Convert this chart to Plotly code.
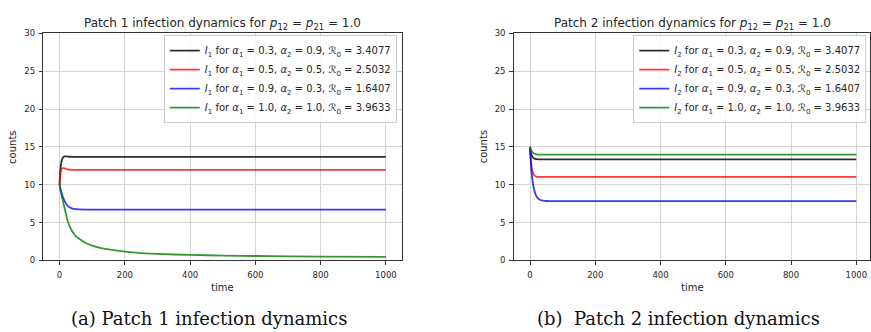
import plotly.graph_objects as go

# ---------------- data ----------------
t = [0, 1, 2, 3, 5, 7, 10, 13, 16, 20, 25, 30, 40, 50, 60, 80, 100, 125,
     150, 200, 250, 300, 400, 500, 600, 800, 1000]

labels = [
    ("0.3", "0.9", "3.4077"),
    ("0.5", "0.5", "2.5032"),
    ("0.9", "0.3", "1.6407"),
    ("1.0", "1.0", "3.9633"),
]

# Patch 1: I1
p1_black = [10, 11.0, 11.7, 12.2, 12.85, 13.25, 13.55, 13.7, 13.75, 13.75, 13.72, 13.7,
            13.68, 13.68, 13.68, 13.68, 13.68, 13.68, 13.68, 13.68, 13.68, 13.68, 13.68,
            13.68, 13.68, 13.68, 13.68]
p1_red = [10, 10.7, 11.2, 11.55, 11.95, 12.12, 12.2, 12.2, 12.15, 12.08, 12.02, 11.99,
          11.97, 11.96, 11.96, 11.96, 11.96, 11.96, 11.96, 11.96, 11.96, 11.96, 11.96,
          11.96, 11.96, 11.96, 11.96]
p1_blue = [10, 9.85, 9.65, 9.45, 9.1, 8.8, 8.4, 8.05, 7.8, 7.5, 7.2, 7.02,
           6.85, 6.77, 6.74, 6.72, 6.72, 6.72, 6.72, 6.72, 6.72, 6.72, 6.72,
           6.72, 6.72, 6.72, 6.72]
p1_green = [10, 9.7, 9.45, 9.2, 8.85, 8.45, 7.95, 7.35, 6.8, 6.05, 5.2, 4.6,
            3.75, 3.2, 2.85, 2.3, 1.95, 1.65, 1.45, 1.15, 0.97, 0.85, 0.72,
            0.64, 0.58, 0.5, 0.45]

# Patch 2: I2
p2_black = [15, 14.7, 14.4, 14.15, 13.9, 13.72, 13.55, 13.46, 13.41, 13.38, 13.36, 13.35,
            13.34, 13.34, 13.34, 13.34, 13.34, 13.34, 13.34, 13.34, 13.34, 13.34, 13.34,
            13.34, 13.34, 13.34, 13.34]
p2_red = [15, 14.2, 13.5, 12.95, 12.3, 11.85, 11.45, 11.25, 11.15, 11.08, 11.05, 11.04,
          11.03, 11.03, 11.03, 11.03, 11.03, 11.03, 11.03, 11.03, 11.03, 11.03, 11.03,
          11.03, 11.03, 11.03, 11.03]
p2_blue = [15, 14.1, 13.3, 12.6, 11.5, 10.7, 9.9, 9.3, 8.85, 8.45, 8.18, 8.02,
           7.9, 7.85, 7.83, 7.82, 7.82, 7.82, 7.82, 7.82, 7.82, 7.82, 7.82,
           7.82, 7.82, 7.82, 7.82]
p2_green = [15, 14.88, 14.75, 14.62, 14.45, 14.32, 14.2, 14.12, 14.07, 14.02, 13.99, 13.98,
            13.97, 13.97, 13.97, 13.97, 13.97, 13.97, 13.97, 13.97, 13.97, 13.97, 13.97,
            13.97, 13.97, 13.97, 13.97]

x_ticks = [0, 200, 400, 600, 800, 1000]
y_ticks = [0, 5, 10, 15, 20, 25, 30]

colors = ["rgba(0,0,0,0.82)", "rgba(255,0,0,0.78)", "rgba(0,0,255,0.78)", "rgba(0,128,0,0.8)"]

# ---------------- figure ----------------
W, H = 871, 332
FONT = "DejaVu Sans"
TXT = "#262626"

fig = go.Figure()


def name_for(i, a1, a2, r0):
    return (f"<i>I</i><sub>{i}</sub> for <i>α</i><sub>1</sub> = {a1}, "
            f"<i>α</i><sub>2</sub> = {a2}, <i>ℛ</i><sub>0</sub> = {r0}")


for k, ys in enumerate([p1_black, p1_red, p1_blue, p1_green]):
    fig.add_trace(go.Scatter(x=t, y=ys, mode="lines",
                             line=dict(color=colors[k], width=1.8, shape="spline", smoothing=0.7),
                             name=name_for(1, *labels[k]), xaxis="x", yaxis="y", legend="legend"))
for k, ys in enumerate([p2_black, p2_red, p2_blue, p2_green]):
    fig.add_trace(go.Scatter(x=t, y=ys, mode="lines",
                             line=dict(color=colors[k], width=1.8, shape="spline", smoothing=0.7),
                             name=name_for(2, *labels[k]), xaxis="x2", yaxis="y2", legend="legend2"))

# pixel geometry
L1, R1 = 43.3, 402.7
L2, R2 = 514.3, 871.0
TOP, BOT = 29.3, 263.3


def px(x):
    return x / W


def py(y):
    return (H - y) / H


axis_common = dict(showline=True, mirror=True, linecolor="#333333", linewidth=1,
                   ticks="outside", ticklen=3.5, tickcolor="#333333", tickwidth=1,
                   showgrid=True, gridcolor="#d4d4d4", gridwidth=1, zeroline=False,
                   tickfont=dict(family=FONT, size=8.5, color=TXT))

fig.update_layout(
    width=W, height=H, margin=dict(l=0, r=0, t=0, b=0),
    paper_bgcolor="white", plot_bgcolor="white",
    xaxis=dict(domain=[px(L1), px(R1)], range=[-50, 1050], tickvals=x_ticks, anchor="y",
               ticklabelstandoff=3, **axis_common),
    yaxis=dict(domain=[py(BOT), py(TOP)], range=[0, 30], tickvals=y_ticks, anchor="x",
               ticklabelstandoff=2, **axis_common),
    xaxis2=dict(domain=[px(L2), px(R2)], range=[-50, 1042], tickvals=x_ticks, anchor="y2",
                ticklabelstandoff=3, **axis_common),
    yaxis2=dict(domain=[py(BOT), py(TOP)], range=[0, 30], tickvals=y_ticks, anchor="x2",
                ticklabelstandoff=2, **axis_common),
    legend=dict(x=px(164), y=py(31), xanchor="left", yanchor="top",
                bgcolor="rgba(255,255,255,0.85)", bordercolor="#cccccc", borderwidth=1,
                font=dict(family=FONT, size=10, color=TXT), itemwidth=30, tracegroupgap=0),
    legend2=dict(x=px(634), y=py(31), xanchor="left", yanchor="top",
                 bgcolor="rgba(255,255,255,0.85)", bordercolor="#cccccc", borderwidth=1,
                 font=dict(family=FONT, size=10, color=TXT), itemwidth=30, tracegroupgap=0),
    showlegend=True,
)

ann = []
# titles
for cx, lab in [((L1 + R1) / 2, "1"), ((L2 + 873) / 2, "2")]:
    ann.append(dict(x=px(cx), y=py(20), xref="paper", yref="paper", xanchor="center", yanchor="middle",
                    text=f"Patch {lab} infection dynamics for <i>p</i><sub>12</sub> = <i>p</i><sub>21</sub> = 1.0",
                    showarrow=False, font=dict(family=FONT, size=12, color=TXT)))
# axis titles
for cx in [(L1 + R1) / 2, (L2 + 873) / 2]:
    ann.append(dict(x=px(cx), y=py(291.5), xref="paper", yref="paper", xanchor="center", yanchor="middle",
                    text="time", showarrow=False, font=dict(family=FONT, size=10, color=TXT)))
for cx in [13, 13 + 471]:
    ann.append(dict(x=px(cx), y=py((TOP + BOT) / 2), xref="paper", yref="paper", xanchor="center",
                    yanchor="middle", text="counts", textangle=-90, showarrow=False,
                    font=dict(family=FONT, size=10, color=TXT)))
# captions
ann.append(dict(x=px(209), y=py(323), xref="paper", yref="paper", xanchor="center", yanchor="middle",
                text="(a) Patch 1 infection dynamics", showarrow=False,
                font=dict(family="DejaVu Serif", size=18, color="#111111")))
ann.append(dict(x=px(679), y=py(323), xref="paper", yref="paper", xanchor="center", yanchor="middle",
                text="(b)  Patch 2 infection dynamics", showarrow=False,
                font=dict(family="DejaVu Serif", size=18, color="#111111")))
fig.update_layout(annotations=ann)

fig.write_html("out.html")
